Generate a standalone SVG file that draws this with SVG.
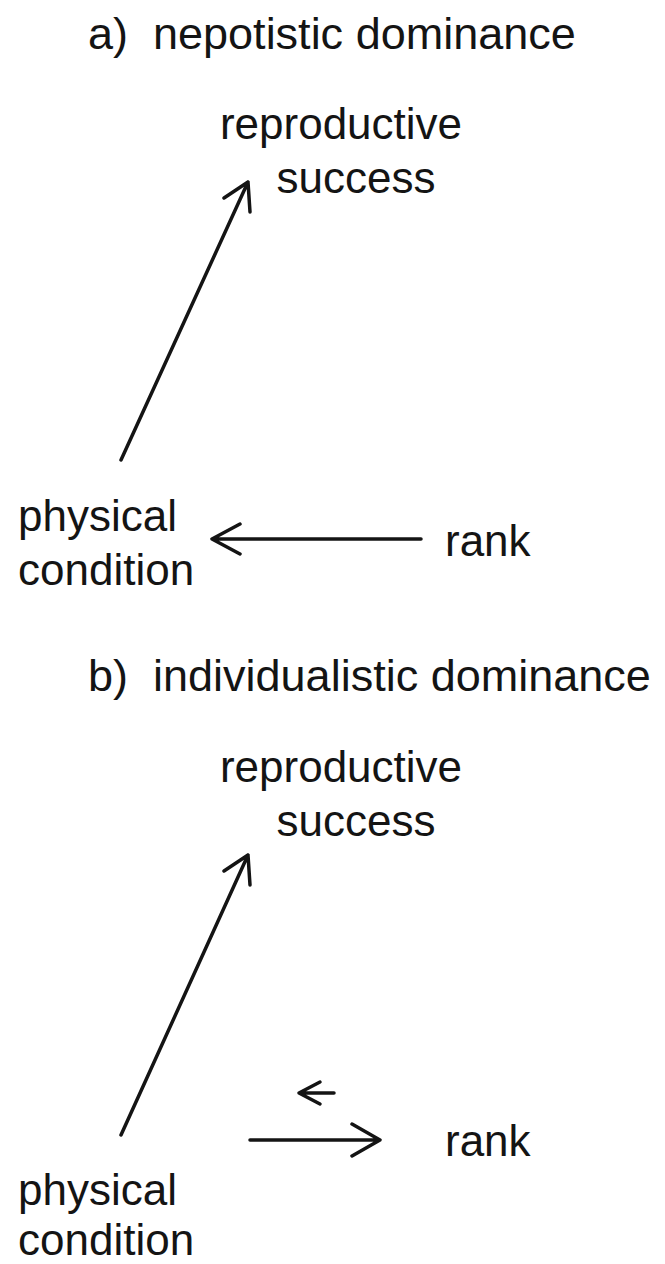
<svg xmlns="http://www.w3.org/2000/svg" width="665" height="1264" viewBox="0 0 665 1264">
<style>
text{font-family:"Liberation Sans",Arial,sans-serif;font-size:44px;fill:#141414}
.t{font-size:45px}
.c{stroke:#141414;stroke-width:3.5;fill:none;stroke-linecap:round;stroke-linejoin:round}
</style>
<rect width="665" height="1264" fill="#fff"/>
<g id="title-a"><text class="t" x="88" y="49" xml:space="preserve">a)  nepotistic dominance</text></g>
<g id="rs-a"><text x="341" y="139" text-anchor="middle">reproductive</text><text x="356" y="193" text-anchor="middle">success</text></g>
<g id="pc-a"><text x="18" y="531">physical</text><text x="18" y="585">condition</text></g>
<g id="rank-a"><text x="445" y="556">rank</text></g>
<g id="title-b"><text class="t" x="88" y="691" xml:space="preserve">b)  individualistic dominance</text></g>
<g id="rs-b"><text x="341" y="782" text-anchor="middle">reproductive</text><text x="356" y="836" text-anchor="middle">success</text></g>
<g id="pc-b"><text x="18" y="1205">physical</text><text x="18" y="1255">condition</text></g>
<g id="rank-b"><text x="445" y="1156">rank</text></g>
<g id="connectors">
<path class="c" d="M121 460 L248 182 M224 198 L248 182 L250 212"/>
<path class="c" d="M421 539 L212 539 M240 524 L212 539 L240 554"/>
<path class="c" d="M121 1135 L248 855 M224 871 L248 855 L250 885"/>
<path class="c" d="M334 1093 L299 1093 M320 1082 L299 1093 L320 1104"/>
<path class="c" d="M250 1140 L380 1140 M352 1124 L380 1140 L352 1156"/>
</g>
</svg>
